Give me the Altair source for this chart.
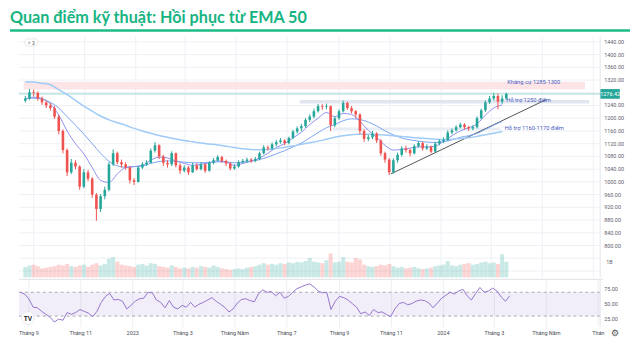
import altair as alt
import pandas as pd
import numpy as np

TITLE = ["Quan điểm kỹ thuật: Hồi phục từ EMA 50"]

# ---- candles (one candle every 5 calendar days) ----
candle_start = "2022-08-22"
candle_step_days = 5
first_open = 1255
closes = [1262, 1282, 1280, 1262, 1250, 1240, 1232, 1205, 1160, 1100,
          1030, 1060, 1048, 985, 1030, 1010, 960, 915, 955, 975,
          1055, 1090, 1062, 1055, 1045, 1005, 1000, 1045, 1055, 1060,
          1098, 1115, 1080, 1060, 1055, 1090, 1052, 1035, 1045, 1030,
          1052, 1040, 1055, 1035, 1060, 1068, 1078, 1066, 1058, 1042,
          1048, 1062, 1066, 1070, 1066, 1072, 1090, 1108, 1105, 1118,
          1125, 1130, 1122, 1138, 1158, 1168, 1175, 1195, 1205, 1222,
          1238, 1236, 1238, 1178, 1200, 1222, 1248, 1232, 1222, 1212,
          1160, 1135, 1140, 1152, 1130, 1090, 1070, 1030, 1068, 1085,
          1105, 1100, 1090, 1112, 1122, 1105, 1110, 1095, 1120, 1128,
          1132, 1155, 1162, 1172, 1180, 1172, 1168, 1172, 1200, 1225,
          1250, 1262, 1270, 1252, 1262, 1276.42]
highs = [1270, 1292, 1290, 1284, 1268, 1256, 1248, 1238, 1210, 1165,
         1105, 1072, 1068, 1052, 1040, 1038, 1015, 965, 962, 985,
         1062, 1102, 1095, 1070, 1062, 1050, 1012, 1050, 1062, 1068,
         1105, 1125, 1118, 1085, 1068, 1096, 1092, 1058, 1052, 1050,
         1060, 1058, 1062, 1058, 1065, 1075, 1084, 1082, 1070, 1062,
         1055, 1068, 1072, 1076, 1075, 1078, 1095, 1115, 1114, 1124,
         1132, 1138, 1134, 1142, 1164, 1174, 1182, 1200, 1212, 1230,
         1245, 1244, 1246, 1240, 1206, 1228, 1256, 1252, 1238, 1226,
         1215, 1165, 1148, 1160, 1156, 1134, 1095, 1075, 1074, 1092,
         1112, 1114, 1104, 1118, 1128, 1126, 1118, 1114, 1126, 1134,
         1140, 1162, 1168, 1178, 1186, 1184, 1176, 1178, 1206, 1230,
         1256, 1270, 1280, 1278, 1272, 1280]
lows = [1250, 1258, 1268, 1255, 1242, 1232, 1224, 1198, 1150, 1090,
        1018, 1025, 1040, 975, 980, 1002, 950, 878, 905, 945,
        970, 1050, 1055, 1045, 1038, 995, 990, 998, 1040, 1050,
        1058, 1092, 1072, 1050, 1045, 1050, 1045, 1025, 1030, 1022,
        1028, 1035, 1036, 1028, 1032, 1055, 1064, 1060, 1050, 1036,
        1038, 1045, 1058, 1060, 1060, 1062, 1068, 1086, 1098, 1100,
        1112, 1120, 1115, 1118, 1134, 1152, 1160, 1170, 1188, 1200,
        1218, 1226, 1228, 1160, 1172, 1195, 1218, 1226, 1215, 1200,
        1150, 1126, 1128, 1134, 1122, 1082, 1060, 1022, 1026, 1060,
        1080, 1092, 1080, 1086, 1108, 1098, 1100, 1090, 1092, 1115,
        1122, 1128, 1150, 1158, 1168, 1165, 1160, 1162, 1168, 1196,
        1220, 1245, 1255, 1228, 1245, 1258]
volumes_b = [0.70, 0.80, 0.85, 0.75, 0.60, 0.65, 0.70, 0.75, 0.85, 0.80,
             0.90, 0.75, 0.70, 0.80, 0.85, 0.70, 0.85, 0.95, 0.80, 0.90,
             1.25, 1.35, 1.05, 0.85, 0.80, 0.75, 0.70, 0.85, 0.90, 0.80,
             0.95, 0.90, 0.75, 0.70, 0.65, 0.80, 0.70, 0.60, 0.65, 0.60,
             0.70, 0.65, 0.75, 0.70, 0.65, 0.80, 0.70, 0.60, 0.55, 0.50,
             0.55, 0.60, 0.55, 0.65, 0.70, 0.75, 0.85, 0.95, 0.85, 0.90,
             0.85, 0.95, 0.90, 1.00, 0.95, 1.05, 1.00, 1.10, 1.30, 1.05,
             1.00, 0.95, 1.15, 1.60, 1.00, 1.05, 1.35, 1.05, 1.00, 1.30,
             1.20, 0.85, 0.75, 0.70, 0.75, 0.85, 0.80, 0.90, 0.75, 0.65,
             0.70, 0.60, 0.65, 0.70, 0.60, 0.55, 0.60, 0.65, 0.75, 0.80,
             0.85, 1.10, 0.80, 0.75, 0.85, 0.90, 0.95, 0.85, 0.90, 1.00,
             1.05, 0.95, 1.00, 0.90, 1.55, 1.05]
rsi_values = [70, 67, 59, 45, 44, 38, 33, 28, 20, 25,
              23, 36, 33, 36, 41, 38, 35, 29, 38, 53,
              63, 68, 57, 58, 55, 42, 48, 55, 59, 60,
              70, 69, 57, 53, 44, 56, 45, 42, 48, 45,
              53, 45, 50, 53, 57, 61, 55, 50, 45, 37,
              42, 52, 58, 59, 56, 54, 68, 74, 70, 71,
              64, 70, 60, 63, 70, 76, 79, 82, 84, 79,
              72, 69, 70, 41, 55, 63, 61, 57, 51, 45,
              34, 37, 31, 41, 36, 37, 33, 29, 42, 51,
              53, 49, 51, 55, 57, 56, 52, 44, 52, 60,
              65, 70, 67, 72, 75, 64, 57, 68, 78, 70,
              72, 77, 72, 62, 55, 64]

# ---- moving averages (one point every 10 days) ----
ema_start = "2022-08-22"
ema_step_days = 10
ema20 = [1260, 1266, 1262, 1245, 1210, 1160, 1120, 1088, 1045, 1005,
         998, 1025, 1045, 1048, 1052, 1068, 1078, 1075, 1066, 1058,
         1052, 1055, 1060, 1066, 1062, 1052, 1058, 1065, 1075, 1090,
         1108, 1120, 1138, 1156, 1180, 1200, 1218, 1205, 1215, 1212,
         1190, 1162, 1140, 1115, 1100, 1102, 1106, 1110, 1110, 1112,
         1128, 1145, 1160, 1170, 1182, 1210, 1232, 1242]
ema50 = [1262, 1263, 1260, 1250, 1232, 1205, 1178, 1150, 1120, 1090,
         1065, 1050, 1046, 1048, 1050, 1058, 1064, 1066, 1064, 1062,
         1060, 1060, 1061, 1063, 1063, 1060, 1062, 1065, 1070, 1078,
         1088, 1098, 1110, 1122, 1138, 1155, 1170, 1180, 1192, 1198,
         1196, 1188, 1176, 1160, 1148, 1138, 1132, 1128, 1125, 1124,
         1126, 1132, 1140, 1145, 1152, 1165, 1178, 1190]
ema200 = [1315, 1314, 1310, 1305, 1290, 1274, 1256, 1238, 1222, 1207,
          1195, 1186, 1178, 1168, 1160, 1153, 1146, 1140, 1135, 1130,
          1126, 1122, 1119, 1116, 1112, 1108, 1104, 1102, 1101, 1102,
          1105, 1109, 1113, 1118, 1123, 1128, 1134, 1140, 1145, 1148,
          1150, 1150, 1149, 1147, 1145, 1143, 1140, 1138, 1136, 1134,
          1133, 1134, 1136, 1139, 1143, 1148, 1153, 1158]
ema_names = ["EMA 20", "EMA 50", "EMA 200"]
ema_colors = ["#8f8ff0", "#7ba4f2", "#9fcbf7"]
ema_widths = [1, 1, 1.5]

# ---- drawn zones, labels, trend line ----
zone_names = ["Kháng cự 1285-1300", "Hỗ trợ 1250 điểm", "Hỗ trợ 1160-1170 điểm"]
zone_from = ["2022-08-20", "2023-07-16", "2023-08-24"]
zone_to = ["2024-06-21", "2024-06-26", "2024-03-12"]
zone_low = [1290, 1246, 1163]
zone_high = [1315, 1257, 1171]
zone_fill = ["#fde4e6", "#e1e6f0", "#e8ecf4"]
label_dates = ["2024-03-20", "2024-03-19", "2024-03-17"]
label_prices = [1313, 1256, 1169]

trend_dates = ["2023-11-02", "2024-05-06"]
trend_prices = [1025, 1259]

last_price = [1276.42]

tick_dates = ["2022-09-01", "2022-11-01", "2023-01-01", "2023-03-01", "2023-05-01", "2023-07-01",
              "2023-09-01", "2023-11-01", "2024-01-01", "2024-03-01", "2024-05-01", "2024-07-01"]
tick_labels = ["Tháng 9", "Tháng 11", "2023", "Tháng 3", "Tháng Năm", "Tháng 7",
               "Tháng 9", "Tháng 11", "2024", "Tháng 3", "Tháng Năm", "Thán"]
price_grid = list(range(720, 1441, 40))
price_ticks = [1440, 1400, 1360, 1320, 1240, 1200, 1160, 1120, 1080, 1040, 1000,
               960, 920, 880, 840, 800]
rsi_ticks = [25, 50, 75]
rsi_band = [30, 70]
volume_label = ["1B"]
volume_label_value = [1.0]

x_domain = ["2022-08-20 08:00", "2024-07-03 07:00"]
price_domain = [700, 1455.6]
rsi_domain = [11.67, 91.67]
volume_domain = [0, 16.13]

# ---------------------------------------------------------------------------
def ms(s):
    return int(pd.Timestamp(s, tz="UTC").value // 10**6)

W, H_PRICE, H_RSI = 585, 242, 48
UP, DOWN = "#26a69a", "#ef5350"
GRID = "#eef0f5"
LF = "Roboto"
LC = "#5d606b"

dates = pd.date_range(candle_start, periods=len(closes), freq=f"{candle_step_days}D").strftime("%Y-%m-%d")
opens = [first_open] + closes[:-1]
cdf = pd.DataFrame({"date": dates, "open": opens, "close": closes, "high": highs,
                    "low": lows, "volume": volumes_b, "rsi": rsi_values})
cdf["col"] = np.where(cdf["close"] >= cdf["open"], UP, DOWN)

edates = pd.date_range(ema_start, periods=len(ema20), freq=f"{ema_step_days}D").strftime("%Y-%m-%d")
edf = pd.concat([pd.DataFrame({"date": edates, "value": v, "name": n, "col": c, "w": w})
                 for v, n, c, w in zip([ema20, ema50, ema200], ema_names, ema_colors, ema_widths)])

zdf = pd.DataFrame({"name": zone_names, "from": zone_from, "to": zone_to, "low": zone_low,
                    "high": zone_high, "fill": zone_fill, "ldate": label_dates, "lprice": label_prices})
tdf = pd.DataFrame({"date": trend_dates, "price": trend_prices})
ldf = pd.DataFrame({"price": last_price, "text": [f"{p:.2f}" for p in last_price]})
one = pd.DataFrame({"title": TITLE})
pgrid = pd.DataFrame({"p": price_grid})
ptick = pd.DataFrame({"p": price_ticks, "t": [f"{p:.2f}" for p in price_ticks]})
xtick = pd.DataFrame({"date": [ms(d) for d in tick_dates], "t": tick_labels})
rtick = pd.DataFrame({"r": rsi_ticks, "t": [f"{r:.2f}" for r in rsi_ticks]})

xs = alt.Scale(type="utc", domain=[ms(d) for d in x_domain], nice=False)
ps = alt.Scale(domain=price_domain, nice=False, zero=False)
rs = alt.Scale(domain=rsi_domain, nice=False, zero=False)
vs = alt.Scale(domain=volume_domain, nice=False)


def X(f="date:T"):
    return alt.X(f, scale=xs, axis=None)


def PY(f):
    return alt.Y(f, scale=ps, axis=None)


COL = alt.Color("col:N", scale=None)

# ---- price pane ----
hgrid = alt.Chart(pgrid).mark_rule(color=GRID, strokeWidth=1).encode(y=PY("p:Q"))
vgrid = alt.Chart(xtick).mark_rule(color=GRID, strokeWidth=1).encode(x=X("date:T"))
plabels = alt.Chart(ptick).mark_text(align="left", baseline="middle", font=LF, fontSize=5.5,
                                     color=LC).encode(x=alt.value(W + 4), y=PY("p:Q"), text="t:N")
right_border = alt.Chart(one).mark_rule(color="#e4e6ec").encode(
    x=alt.value(W), y=alt.value(0), y2=alt.value(H_PRICE))

zones = alt.Chart(zdf).mark_rect().encode(
    x=X("from:T"), x2="to:T", y=PY("low:Q"), y2="high:Q", color=alt.Color("fill:N", scale=None))

last_line = alt.Chart(ldf).mark_rule(color=UP, opacity=0.45, strokeWidth=1).encode(y=PY("price:Q"))

trend = alt.Chart(tdf).mark_line(color="#555555", strokeWidth=1).encode(x=X(), y=PY("price:Q"))

emas = alt.Chart(edf).mark_line(interpolate="monotone").encode(
    x=X(), y=PY("value:Q"), detail="name:N", color=COL,
    strokeWidth=alt.StrokeWidth("w:Q", scale=None))

wicks = alt.Chart(cdf).mark_rule(strokeWidth=1).encode(x=X(), y=PY("low:Q"), y2="high:Q", color=COL)
bodies = alt.Chart(cdf).mark_bar(size=2.6).encode(x=X(), y=PY("open:Q"), y2="close:Q", color=COL)

zone_text = alt.Chart(zdf).mark_text(align="left", baseline="middle", fontSize=5.8, font=LF,
                                     color="#4a5cc0").encode(
    x=X("ldate:T"), y=PY("lprice:Q"), text="name:N")

tag = alt.Chart(ldf).mark_point(shape="M-1,-0.5L1,-0.5L1,0.5L-1,0.5Z", size=380, filled=True,
                                color=UP, opacity=1).encode(x=alt.value(W + 10), y=PY("price:Q"))
tag_text = alt.Chart(ldf).mark_text(color="white", fontSize=5.5, font=LF).encode(
    x=alt.value(W + 10), y=PY("price:Q"), text="text:N")

title = alt.Chart(one).mark_text(align="left", baseline="alphabetic", font="Lato", fontSize=16.3,
                                 fontWeight="bold", color="#17b482").encode(
    x=alt.value(-9), y=alt.value(-14), text="title:N")
green_rule = alt.Chart(one).mark_rule(color="#1dbb86", strokeWidth=2.5).encode(
    x=alt.value(-9), x2=alt.value(W + 30), y=alt.value(-6.5))
button = alt.Chart(one).mark_rect(fill="white", stroke="#d6d8de", strokeWidth=0.6, cornerRadius=2).encode(
    x=alt.value(6), x2=alt.value(19), y=alt.value(2), y2=alt.value(9))
button_text = alt.Chart(one).mark_text(fontSize=5, color="#555", baseline="middle").encode(
    x=alt.value(12.5), y=alt.value(5.8), text=alt.value("˅ 3"))

vol_bars = alt.Chart(cdf).mark_bar(size=4, opacity=0.25).encode(
    x=X(), y=alt.Y("volume:Q", scale=vs, axis=None), color=COL)
vol_text = alt.Chart(pd.DataFrame({"v": volume_label_value, "t": volume_label})).mark_text(
    align="left", baseline="middle", fontSize=5.5, font=LF, color=LC).encode(
    x=alt.value(W + 6), y=alt.Y("v:Q", scale=vs, axis=None), text="t:N")

price_part = alt.layer(hgrid, vgrid, right_border, zones, last_line, trend, emas, wicks, bodies,
                       zone_text, plabels, tag, tag_text, title, green_rule, button, button_text)
vol_part = alt.layer(vol_bars, vol_text)
price_panel = alt.layer(price_part, vol_part).resolve_scale(y="independent").properties(
    width=W, height=H_PRICE)

# ---- RSI pane ----
RY = lambda f: alt.Y(f, scale=rs, axis=None)
bdf = pd.DataFrame({"lo": [rsi_band[0]], "hi": [rsi_band[1]]})
rvgrid = alt.Chart(xtick).mark_rule(color=GRID, strokeWidth=1).encode(x=X("date:T"))
band = alt.Chart(bdf).mark_rect(color="#7e57c2", opacity=0.1).encode(
    x=alt.value(0), x2=alt.value(W), y=RY("hi:Q"), y2="lo:Q")
band_lines = alt.Chart(pd.DataFrame({"lvl": rsi_band})).mark_rule(
    color="#9598a1", strokeDash=[3, 3], strokeWidth=0.8).encode(y=RY("lvl:Q"))
rsi_line = alt.Chart(cdf).mark_line(color="#9575cd", strokeWidth=1).encode(x=X(), y=RY("rsi:Q"))
rlabels = alt.Chart(rtick).mark_text(align="left", baseline="middle", font=LF, fontSize=5.5,
                                     color=LC).encode(x=alt.value(W + 4), y=RY("r:Q"), text="t:N")
xlabels = alt.Chart(xtick).mark_text(align="center", baseline="middle", font=LF, fontSize=5.5,
                                     color="#4a4d57").encode(
    x=X("date:T"), y=alt.value(H_RSI + 6), text="t:N")
sep = alt.Chart(one).mark_rule(color="#dfe1e6", strokeWidth=1).encode(
    x=alt.value(0), x2=alt.value(W + 3), y=alt.value(0))
rborder = alt.Chart(one).mark_rule(color="#e4e6ec").encode(
    x=alt.value(W), y=alt.value(0), y2=alt.value(H_RSI))
logo = alt.Chart(one).mark_circle(size=170, color="white", stroke="#e3e3e3", strokeWidth=0.8,
                                  opacity=1).encode(x=alt.value(9), y=alt.value(39))
logo_text = alt.Chart(one).mark_text(fontSize=6.5, fontWeight="bold", color="#131722",
                                     baseline="middle").encode(
    x=alt.value(9), y=alt.value(39.5), text=alt.value("TV"))
gear = alt.Chart(one).mark_text(fontSize=9, color="#555", font="DejaVu Sans", baseline="middle").encode(
    x=alt.value(W + 15), y=alt.value(H_RSI + 6), text=alt.value("⚙"))

rsi_panel = alt.layer(rvgrid, band, band_lines, rsi_line, rlabels, xlabels, sep, rborder,
                      logo, logo_text, gear).properties(width=W, height=H_RSI)

chart = alt.vconcat(price_panel, rsi_panel, spacing=0).properties(
    padding={"left": 0, "top": 1, "right": 0, "bottom": 4}
).configure(background="white", view=alt.ViewConfig(stroke=None))

chart.save("out.html", embed_options={"renderer": "svg", "actions": False})
